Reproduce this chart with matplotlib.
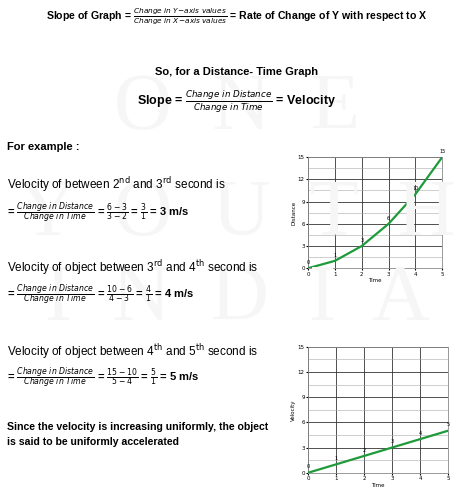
import matplotlib.pyplot as plt

time = [0, 1, 2, 3, 4, 5]
distance = [0, 1, 3, 6, 10, 15]
velocity = [0, 1, 2, 3, 4, 5]
y_ticks = [0, 3, 6, 9, 12, 15]

fig = plt.figure(figsize=(4.74, 4.94), dpi=100)


def ty(px):
    return 1 - px / 494


# faint watermark
for txt, yy in [('O  N  E', 110), ('Y  O  U  T  H', 215), ('I  N  D  I  A', 300)]:
    fig.text(0.5, ty(yy), txt, ha='center', va='center', fontsize=58,
             family='Liberation Serif', color='#f6f6f6', zorder=0)

b = dict(fontsize=8, fontweight='bold', family='Liberation Sans')
n = dict(fontsize=8.5, family='Liberation Sans')

fig.text(0.5, ty(17), r'Slope of Graph = $\frac{Change\ in\ Y\!-\!axis\ values}{Change\ in\ X\!-\!axis\ values}$'
         ' = Rate of Change of Y with respect to X', ha='center', va='center',
         fontsize=7.6, fontweight='bold', family='Liberation Sans')
fig.text(0.5, ty(72), 'So, for a Distance- Time Graph', ha='center', va='center', **b)
fig.text(0.5, ty(101), r'Slope = $\frac{Change\ in\ Distance}{Change\ in\ Time}$ = Velocity',
         ha='center', va='center', fontsize=9, fontweight='bold', family='Liberation Sans')
fig.text(0.015, ty(147), 'For example :', va='center', **b)

fig.text(0.015, ty(185), r'Velocity of between 2$^{\mathrm{nd}}$ and 3$^{\mathrm{rd}}$ second is', va='center', **n)
fig.text(0.015, ty(213), r'= $\frac{Change\ in\ Distance}{Change\ in\ Time}$ = $\frac{6-3}{3-2}$ = $\frac{3}{1}$ = 3 m/s',
         va='center', **b)
fig.text(0.015, ty(268), r'Velocity of object between 3$^{\mathrm{rd}}$ and 4$^{\mathrm{th}}$ second is', va='center', **n)
fig.text(0.015, ty(295), r'= $\frac{Change\ in\ Distance}{Change\ in\ Time}$ = $\frac{10-6}{4-3}$ = $\frac{4}{1}$ = 4 m/s',
         va='center', **b)
fig.text(0.015, ty(352), r'Velocity of object between 4$^{\mathrm{th}}$ and 5$^{\mathrm{th}}$ second is', va='center', **n)
fig.text(0.015, ty(378), r'= $\frac{Change\ in\ Distance}{Change\ in\ Time}$ = $\frac{15-10}{5-4}$ = $\frac{5}{1}$ = 5 m/s',
         va='center', **b)
fig.text(0.015, ty(427), 'Since the velocity is increasing uniformly, the object', va='center',
         fontsize=7.6, fontweight='bold', family='Liberation Sans')
fig.text(0.015, ty(442), 'is said to be uniformly accelerated', va='center',
         fontsize=7.6, fontweight='bold', family='Liberation Sans')


def small_chart(rect, ys, ylabel):
    ax = fig.add_axes(rect)
    ax.plot(time, ys, color='#1e9a3a', lw=1.6, zorder=3)
    for x, y in zip(time, ys):
        ax.text(x, y + 0.4, str(y), fontsize=3.5, ha='center', va='bottom')
    ax.set_xlim(0, 5)
    ax.set_ylim(0, 15)
    ax.set_xticks(time)
    ax.set_yticks(y_ticks)
    ax.set_yticks([1.5, 4.5, 7.5, 10.5, 13.5], minor=True)
    ax.grid(True, which='major', color='#333333', lw=0.6)
    ax.grid(True, which='minor', axis='y', color='#aaaaaa', lw=0.4)
    ax.tick_params(labelsize=4, length=1.5, pad=1)
    ax.tick_params(which='minor', length=0)
    ax.set_xlabel('Time', fontsize=4, labelpad=1)
    ax.set_ylabel(ylabel, fontsize=4, labelpad=1)
    for s in ax.spines.values():
        s.set_color('#888888')
        s.set_linewidth(0.6)
    return ax


small_chart([0.65, 0.457, 0.283, 0.225], distance, 'Distance')
small_chart([0.65, 0.043, 0.295, 0.255], velocity, 'Velocity')

fig.savefig('out.png', dpi=100)
